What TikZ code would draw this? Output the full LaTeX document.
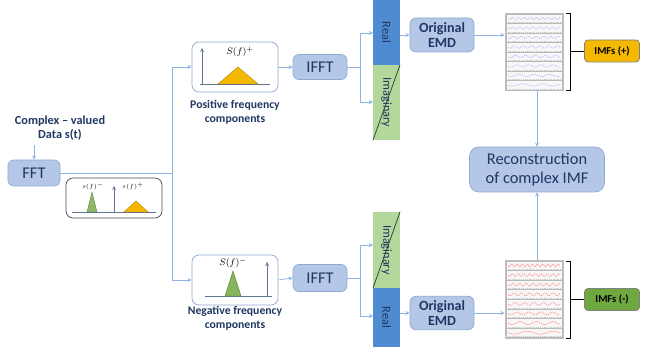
\documentclass[tikz,border=0pt]{standalone}
\usepackage{fontspec}
\setmainfont{Carlito}
\usepackage[dvipsnames]{xcolor}
\definecolor{boxfill}{HTML}{B4C7E7}
\definecolor{boxline}{HTML}{8EA9D0}
\definecolor{navy}{HTML}{1F3763}
\definecolor{flow}{HTML}{8DB3E2}
\definecolor{realbar}{HTML}{4F8BD0}
\definecolor{imagbar}{HTML}{B3D89C}
\definecolor{gold}{HTML}{F5B800}
\definecolor{leaf}{HTML}{6FA83F}

\begin{document}
\begin{tikzpicture}[x=0.03cm,y=-0.03cm,>=stealth,line width=0.6pt,
    block/.style={rounded corners=5pt,draw=boxline,fill=boxfill,text=navy,align=center,inner sep=1pt},
    specbox/.style={rounded corners=6pt,draw=boxline,fill=white,minimum width=2.58cm,minimum height=1.5cm},
    bar/.style={draw=none,minimum height=0.81cm,inner sep=0pt,rotate=-90,font=\fontsize{10.5}{12}\selectfont,text=navy},
    label/.style={text=navy,align=center,font=\bfseries\fontsize{10}{12}\selectfont},
    imf/.style={rounded corners=3pt,draw=black!50,minimum width=1.65cm,minimum height=0.66cm,font=\bfseries\fontsize{9}{11}\selectfont},
    every edge/.style={draw=flow,->}]
            \useasboundingbox (0,0) rectangle (652,347);

            % input and FFT
            \node[label, font=\bfseries\fontsize{10.5}{12.5}\selectfont] (data) at (60,128) {Complex -- valued\\Data s(t)};
            \node[block, minimum width=1.56cm, minimum height=0.78cm, font=\fontsize{14}{15}\selectfont] (fft) at (34,173) {FFT};
            \node[specbox, draw=black!70, minimum width=2.88cm, minimum height=1.2cm] (spec) at (114,198) {};
            \coordinate (split) at (172,173);
            \coordinate (up) at (172,67);
            \coordinate (down) at (172,280);

            % frequency components
            \node[specbox] (pos) at (235,67) {};
            \node[specbox] (neg) at (235,280) {};
            \node[label] (poslabel) at (235,112) {Positive frequency\\components};
            \node[label] (neglabel) at (235,318) {Negative frequency\\components};

            \node[block, minimum width=1.62cm, minimum height=0.75cm, font=\fontsize{14}{15}\selectfont] (ifft1) at (320,67) {IFFT};
            \node[block, minimum width=1.62cm, minimum height=0.81cm, font=\fontsize{14}{15}\selectfont] (ifft2) at (320,278) {IFFT};

            % real / imaginary bars
            \node[bar, fill=realbar, minimum width=1.95cm] (re1) at (386.5,32.5) {Real};
            \node[bar, fill=imagbar, minimum width=2.25cm] (im1) at (386.5,102.5) {Imaginary};
            \node[bar, fill=imagbar, minimum width=2.28cm] (im2) at (386.5,250) {Imaginary};
            \node[bar, fill=realbar, minimum width=1.77cm] (re2) at (386.5,317.5) {Real};
            \draw[black!80] (373,140) -- (400,65);
            \draw[black!80] (373,288) -- (400,212);
            \coordinate (fork1) at (360,67);
            \coordinate (fork2) at (360,278);

            \node[block, minimum width=1.92cm, minimum height=1.02cm, font=\bfseries\fontsize{12}{13}\selectfont] (emd1) at (442,35) {Original\\EMD};
            \node[block, minimum width=1.92cm, minimum height=1.0cm, font=\bfseries\fontsize{12}{13}\selectfont] (emd2) at (442,313) {Original\\EMD};

            % IMF plots
            \node[draw=gray!50, minimum width=1.74cm, minimum height=2.31cm, inner sep=0pt] (plot1) at (534,51.5) {};
            \node[draw=gray!50, minimum width=1.74cm, minimum height=2.34cm, inner sep=0pt] (plot2) at (534,299) {};
            \foreach \i in {0,...,7} {
                \draw[gray!55, fill=gray!6] (506,14+\i*9.5) rectangle (562,23.5+\i*9.5);
                \draw[gray!45, densely dotted] (506,22.5+\i*9.5) -- (562,22.5+\i*9.5);
                \draw[blue!25, domain=0:52, samples=40, line width=0.4pt] plot ({508+\x}, {18.5+\i*9.5+1.2*sin(\x*(60-6*\i))});
                \draw[gray!55, fill=gray!6] (506,261+\i*9.6) rectangle (562,270.6+\i*9.6);
                \draw[gray!45, densely dotted] (506,269.6+\i*9.6) -- (562,269.6+\i*9.6);
                \draw[red!40, domain=0:52, samples=40, line width=0.4pt] plot ({508+\x}, {265.5+\i*9.6+1.5*sin(\x*(70-8*\i))});
            }
            \draw[black] (566,13) -- (570,13) -- (570,90) -- (566,90);
            \draw[black] (566,261) -- (570,261) -- (570,338) -- (566,338);
            \node[imf, fill=gold] (imfp) at (612,51) {IMFs (+)};
            \node[imf, fill=leaf] (imfm) at (612,299.5) {IMFs (-)};
            \draw[black] (570,51) -- (imfp.west);
            \draw[black] (570,299.5) -- (imfm.west);

            \node[block, rounded corners=8pt, minimum width=4.05cm, minimum height=1.35cm, font=\fontsize{14}{16}\selectfont] (recon) at (537,169.5) {Reconstruction\\of complex IMF};

            % spectra sketches
            \draw[navy!70, line width=0.5pt] (72,212) -- (156,212);
            \draw[navy!70, line width=0.5pt, ->] (114,212) -- (114,186);
            \filldraw[draw=leaf!70!black, fill=leaf!80, line width=0.3pt] (87,212) -- (92,192) -- (97,212) -- cycle;
            \filldraw[draw=gold!70!black, fill=gold, line width=0.3pt] (124,212) -- (136,201) -- (148,212) -- cycle;
            \node[font=\fontsize{5}{6}\selectfont] (sm) at (93,186) {$s(f)^-$};
            \node[font=\fontsize{5}{6}\selectfont] (sp) at (133,186) {$s(f)^+$};

            \draw[navy!70, line width=0.5pt] (200,84) -- (270,84);
            \draw[navy!70, line width=0.5pt, ->] (202,84) -- (202,48);
            \filldraw[draw=gold!70!black, fill=gold, line width=0.3pt] (218,84) -- (238,67) -- (258,84) -- cycle;
            \node[font=\fontsize{8}{9}\selectfont] (possym) at (240,52) {$S(f)^+$};

            \draw[navy!70, line width=0.5pt] (205,296) -- (272,296);
            \draw[navy!70, line width=0.5pt, ->] (267,296) -- (267,262);
            \filldraw[draw=leaf!70!black, fill=leaf!85, line width=0.3pt] (225,296) -- (233,271) -- (241,296) -- cycle;
            \node[font=\fontsize{8}{9}\selectfont] (negsym) at (233,263) {$S(f)^-$};

            % connectors
            \draw[flow] (fft.east) -- (split) (up) -- (down);
            \draw[flow] (ifft1.east) -- (fork1);
            \draw[flow] (360,33) -- (360,102);
            \draw[flow] (ifft2.east) -- (fork2);
            \draw[flow] (360,245) -- (360,316);
            \path
                (data.south -| fft) edge (fft.north)
                (up) edge (pos.west)
                (down) edge (neg.west)
                (pos.east) edge (ifft1.west)
                (neg.east) edge (ifft2.west)
                (360,33) edge (373,33)
                (360,102) edge (373,102)
                (360,245) edge (373,245)
                (360,316) edge (373,316)
                (400,35) edge (emd1.west)
                (400,313) edge (emd2.west)
                (emd1.east) edge (plot1.west |- emd1.east)
                (emd2.east) edge (plot2.west |- emd2.east)
                (plot1.south -| recon) edge (recon.north)
                (plot2.north -| recon) edge (recon.south)
            ;
        \end{tikzpicture}
\end{document}
